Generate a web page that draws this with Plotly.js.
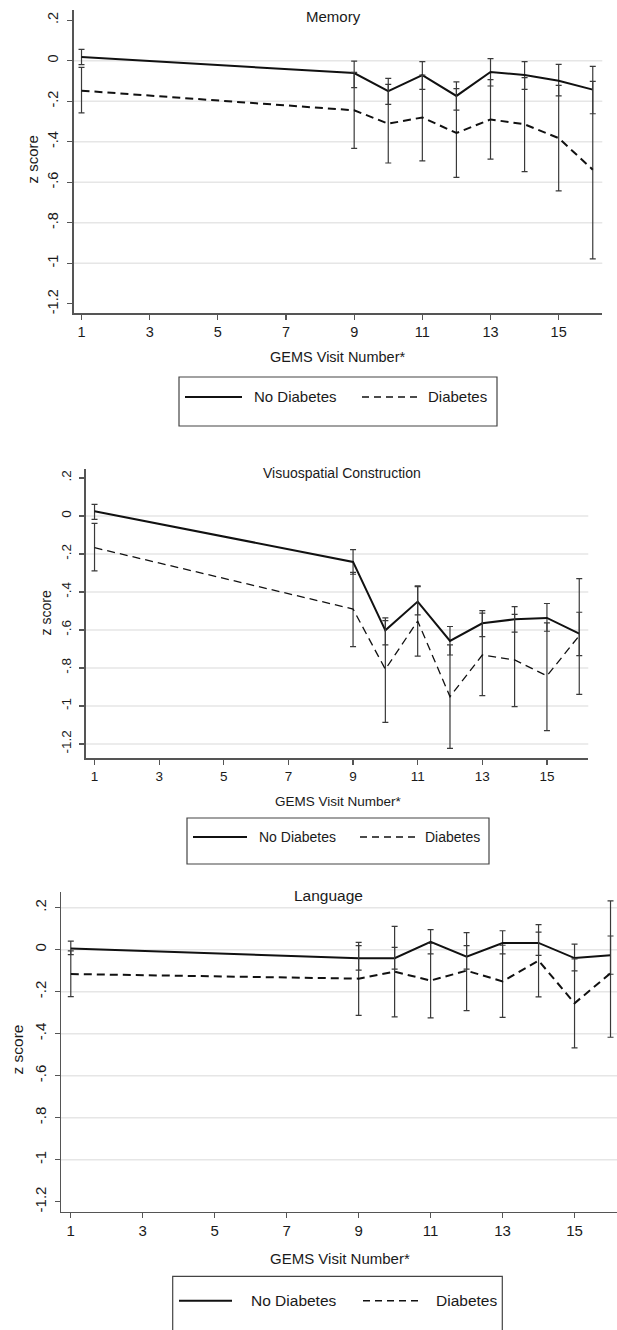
<!DOCTYPE html>
<html><head><meta charset="utf-8">
<script src="https://cdn.plot.ly/plotly-3.0.1.min.js"></script>
<style>html,body{margin:0;padding:0;background:#fff;overflow:hidden}</style>
</head><body><div id="chart" style="width:617px;height:1330px"></div>
<script>
// ---------------- DATA ----------------
const visits = [1, 9, 10, 11, 12, 13, 14, 15, 16];
const xTickVals = [1, 3, 5, 7, 9, 11, 13, 15];
const xTickText = ["1", "3", "5", "7", "9", "11", "13", "15"];
const yTickVals = [-1.2, -1, -0.8, -0.6, -0.4, -0.2, 0, 0.2];
const yTickText = ["-1.2", "-1", "-.8", "-.6", "-.4", "-.2", "0", ".2"];
const seriesNames = ["No Diabetes", "Diabetes"];
const panelTitles = ["Memory", "Visuospatial Construction", "Language"];
const xAxisTitle = "GEMS Visit Number*";
const yAxisTitle = "z score";

// Memory
const memNoDiabMean = [0.018, -0.061, -0.150, -0.071, -0.174, -0.056, -0.071, -0.099, -0.143];
const memNoDiabLow  = [-0.020, -0.133, -0.216, -0.142, -0.244, -0.125, -0.142, -0.174, -0.262];
const memNoDiabHigh = [0.056, -0.002, -0.087, -0.005, -0.105, 0.010, -0.005, -0.018, -0.028];
const memDiabMean   = [-0.148, -0.245, -0.311, -0.280, -0.357, -0.290, -0.314, -0.382, -0.538];
const memDiabLow    = [-0.258, -0.433, -0.505, -0.494, -0.576, -0.486, -0.547, -0.642, -0.978];
const memDiabHigh   = [-0.033, -0.058, -0.117, -0.071, -0.138, -0.094, -0.084, -0.122, -0.102];

// Visuospatial Construction
const visNoDiabMean = [0.025, -0.242, -0.602, -0.451, -0.658, -0.565, -0.544, -0.537, -0.619];
const visNoDiabLow  = [-0.018, -0.307, -0.679, -0.521, -0.732, -0.635, -0.611, -0.607, -0.735];
const visNoDiabHigh = [0.061, -0.177, -0.537, -0.372, -0.582, -0.498, -0.477, -0.461, -0.507];
const visDiabMean   = [-0.167, -0.490, -0.807, -0.553, -0.951, -0.732, -0.758, -0.842, -0.630];
const visDiabLow    = [-0.289, -0.688, -1.086, -0.738, -1.223, -0.946, -1.004, -1.130, -0.939];
const visDiabHigh   = [-0.039, -0.297, -0.551, -0.368, -0.679, -0.512, -0.518, -0.563, -0.330];

// Language
const lanNoDiabMean = [0.006, -0.041, -0.041, 0.037, -0.033, 0.032, 0.032, -0.040, -0.027];
const lanNoDiabLow  = [-0.024, -0.097, -0.093, -0.020, -0.093, -0.020, -0.027, -0.101, -0.117];
const lanNoDiabHigh = [0.041, 0.019, 0.011, 0.095, 0.019, 0.090, 0.084, 0.026, 0.065];
const lanDiabMean   = [-0.116, -0.138, -0.105, -0.147, -0.100, -0.151, -0.052, -0.255, -0.112];
const lanDiabLow    = [-0.224, -0.313, -0.320, -0.325, -0.290, -0.322, -0.225, -0.468, -0.417];
const lanDiabHigh   = [-0.006, 0.035, 0.111, 0.030, 0.081, 0.021, 0.119, -0.044, 0.232];

const gridVals = [
  [0, -0.2, -0.4, -0.6, -0.8, -1],
  [0, -0.2, -0.4, -0.6, -0.8, -1, -1.2],
  [0.2, 0, -0.2, -0.4, -0.6, -0.8, -1]
];

// ---------------- LAYOUT GEOMETRY (pixels) ----------------
const W = 617, H = 1330;
const FONT = "Liberation Sans, Arial, sans-serif";
const px = x => x / W;
const py = y => 1 - y / H;

const panels = [
  { data: [memNoDiabMean, memNoDiabLow, memNoDiabHigh, memDiabMean, memDiabLow, memDiabHigh],
    left: 73.6, right: 602.3, top: 10, bottom: 313, xr: [0.768, 16.28], yr: [-1.245, 0.25],
    titleY: 17, titleX: 333, fs: 15, dashW: 2,
    ztX: 31.5, ztY: 160, gemsY: 357, gemsX: 337.5,
    box: [179, 377, 497, 426], legY: 397, solid: [185, 242], t1: 252, dash: [362, 418], t2: 426 },
  { data: [visNoDiabMean, visNoDiabLow, visNoDiabHigh, visDiabMean, visDiabLow, visDiabHigh],
    left: 85.8, right: 588.3, top: 469, bottom: 758, xr: [0.73, 16.28], yr: [-1.274, 0.247],
    titleY: 473, titleX: 341.6, fs: 14, dashW: 1.3,
    ztX: 46.4, ztY: 613, gemsY: 801, gemsX: 338.4,
    box: [187, 818, 489, 864], legY: 837, solid: [193, 247], t1: 256.6, dash: [360, 415], t2: 423 },
  { data: [lanNoDiabMean, lanNoDiabLow, lanNoDiabHigh, lanDiabMean, lanDiabLow, lanDiabHigh],
    left: 61, right: 617, top: 891.7, bottom: 1211.7, xr: [0.728, 16.18], yr: [-1.2476, 0.276],
    titleY: 895, titleX: 328.6, fs: 15.5, dashW: 2,
    ztX: 16.5, ztY: 1050, gemsY: 1258, gemsX: 340.4,
    box: [172.7, 1276.3, 502.3, 1345], legY: 1300.7, solid: [179, 232], t1: 249, dash: [363, 421], t2: 434 }
];

const traces = [], shapes = [], annotations = [];
const layout = {
  width: W, height: H, margin: {l: 0, r: 0, t: 0, b: 0},
  paper_bgcolor: "#fff", plot_bgcolor: "#fff", showlegend: false,
  font: {family: FONT, color: "#1a1a1a"}
};

panels.forEach((p, i) => {
  const n = i === 0 ? "" : String(i + 1);
  const xa = "x" + n, ya = "y" + n;
  const [ndM, ndL, ndH, dM, dL, dH] = p.data;
  const axisCommon = {
    showline: true, linecolor: "#555", linewidth: 1.5,
    ticks: "outside", ticklen: 5, tickcolor: "#555", tickwidth: 1.2,
    showgrid: false, zeroline: false, fixedrange: true,
    tickfont: {family: FONT, size: p.fs - 0.5, color: "#1a1a1a"}
  };
  layout["xaxis" + n] = Object.assign({}, axisCommon, {
    domain: [px(p.left), px(p.right)], anchor: ya, range: p.xr,
    tickvals: xTickVals, ticktext: xTickText
  });
  layout["yaxis" + n] = Object.assign({}, axisCommon, {
    domain: [py(p.bottom), py(p.top)], anchor: xa, range: p.yr,
    tickvals: yTickVals, ticktext: yTickText, tickangle: -90, ticklabelstandoff: 3
  });

  const mk = (mean, low, high, name, dash, w) => ({
    type: "scatter", mode: "lines", x: visits, y: mean, name: name,
    xaxis: xa, yaxis: ya, cliponaxis: false,
    line: {color: "#111", width: w, dash: dash},
    error_y: {type: "data", symmetric: false,
      array: high.map((h, k) => h - mean[k]),
      arrayminus: low.map((l, k) => mean[k] - l),
      color: "#3a3a3a", thickness: 1.2, width: 3}
  });
  traces.push(mk(ndM, ndL, ndH, seriesNames[0], "solid", 2));
  traces.push(mk(dM, dL, dH, seriesNames[1], "8px,5px", p.dashW));

  gridVals[i].forEach(g => shapes.push({
    type: "line", xref: xa + " domain", yref: ya, x0: 0, x1: 1, y0: g, y1: g,
    line: {color: "#e6e6e6", width: 1.5}, layer: "below"
  }));

  annotations.push({text: panelTitles[i], xref: "paper", yref: "paper",
    x: px(p.titleX), y: py(p.titleY), xanchor: "center", yanchor: "middle",
    showarrow: false, font: {family: FONT, size: p.fs, color: "#1a1a1a"}});
  annotations.push({text: yAxisTitle, xref: "paper", yref: "paper", textangle: -90,
    x: px(p.ztX), y: py(p.ztY), xanchor: "center", yanchor: "middle",
    showarrow: false, font: {family: FONT, size: p.fs, color: "#1a1a1a"}});
  annotations.push({text: xAxisTitle, xref: "paper", yref: "paper",
    x: px(p.gemsX), y: py(p.gemsY), xanchor: "center", yanchor: "middle",
    showarrow: false, font: {family: FONT, size: p.fs - 0.5, color: "#1a1a1a"}});

  // legend (drawn manually to match box style)
  shapes.push({type: "rect", xref: "paper", yref: "paper",
    x0: px(p.box[0]), x1: px(p.box[2]), y0: py(p.box[3]), y1: py(p.box[1]),
    line: {color: "#444", width: 1.2}, fillcolor: "rgba(0,0,0,0)"});
  shapes.push({type: "line", xref: "paper", yref: "paper",
    x0: px(p.solid[0]), x1: px(p.solid[1]), y0: py(p.legY), y1: py(p.legY),
    line: {color: "#111", width: 2}});
  shapes.push({type: "line", xref: "paper", yref: "paper",
    x0: px(p.dash[0]), x1: px(p.dash[1]), y0: py(p.legY), y1: py(p.legY),
    line: {color: "#111", width: 1.5, dash: "7px,5px"}});
  annotations.push({text: seriesNames[0], xref: "paper", yref: "paper",
    x: px(p.t1), y: py(p.legY), xanchor: "left", yanchor: "middle",
    showarrow: false, font: {family: FONT, size: p.fs, color: "#1a1a1a"}});
  annotations.push({text: seriesNames[1], xref: "paper", yref: "paper",
    x: px(p.t2), y: py(p.legY), xanchor: "left", yanchor: "middle",
    showarrow: false, font: {family: FONT, size: p.fs, color: "#1a1a1a"}});
});

layout.shapes = shapes;
layout.annotations = annotations;
Plotly.newPlot("chart", traces, layout, {staticPlot: true, displayModeBar: false});
</script>
</body></html>
